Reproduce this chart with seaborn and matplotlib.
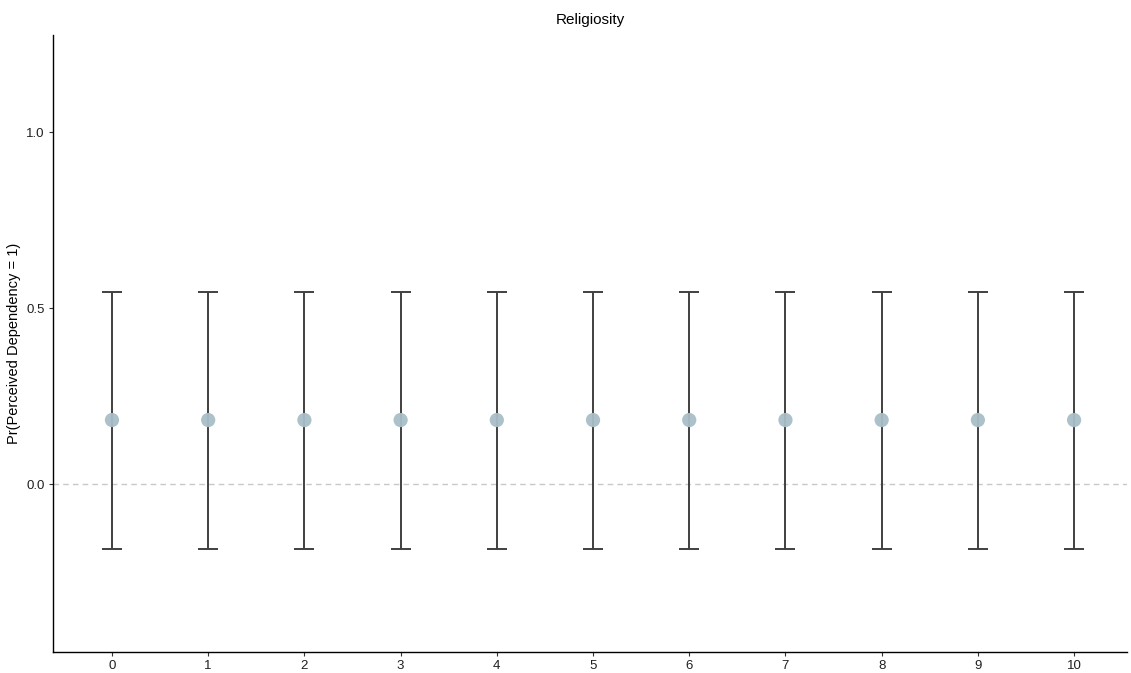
import matplotlib
matplotlib.use("Agg")
import matplotlib.pyplot as plt
import seaborn as sns
import pandas as pd
import numpy as np

categories = [0, 1, 2, 3, 4, 5, 6, 7, 8, 9, 10]
estimates = [0.182, 0.182, 0.182, 0.182, 0.182, 0.182, 0.182, 0.182, 0.182, 0.182, 0.182]
lower = [-0.185, -0.185, -0.185, -0.185, -0.185, -0.185, -0.185, -0.185, -0.185, -0.185, -0.185]
upper = [0.545, 0.545, 0.545, 0.545, 0.545, 0.545, 0.545, 0.545, 0.545, 0.545, 0.545]
y_ticks = [0.0, 0.5, 1.0]
y_tick_labels = ["0.0", "0.5", "1.0"]

df = pd.DataFrame({"x": categories, "est": estimates, "lo": lower, "hi": upper})

sns.set_theme(style="ticks")
plt.rcParams["font.family"] = ["Liberation Sans", "DejaVu Sans"]

fig = plt.figure(figsize=(11.31, 6.73), dpi=100)
ax = fig.add_axes([53/1131, 1 - 652/673, (1127-53)/1131, (652-35)/673])

ax.axhline(0, color="#c8c8c8", linestyle=(0, (4, 3)), linewidth=1.0, zorder=1)

yerr = np.array([df["est"] - df["lo"], df["hi"] - df["est"]])
ax.errorbar(df["x"], df["est"], yerr=yerr, fmt="none", ecolor="#404040",
            elinewidth=1.4, capsize=7.2, capthick=1.4, zorder=2)
sns.scatterplot(data=df, x="x", y="est", ax=ax, s=105, color="#a9bec8",
                edgecolor="none", alpha=0.95, zorder=3, legend=False)

ax.set_xlim(-0.613, 10.55)
ax.set_ylim(-0.477, 1.276)
ax.set_xticks(categories)
ax.set_xticklabels([str(c) for c in categories], fontsize=9.5, color="#202020")
ax.set_yticks(y_ticks)
ax.set_yticklabels(y_tick_labels, fontsize=9.5, color="#202020")
ax.set_xlabel("")
ax.set_ylabel("Pr(Perceived Dependency = 1)", fontsize=10.5, color="#000000")
ax.set_title("Religiosity", fontsize=11, color="#000000", pad=8)
for s in ["top", "right"]:
    ax.spines[s].set_visible(False)
for s in ["left", "bottom"]:
    ax.spines[s].set_color("#000000")
    ax.spines[s].set_linewidth(1.0)
ax.tick_params(axis="both", length=3, width=0.8, color="#333333", pad=3)

fig.savefig("out.png", dpi=100)
